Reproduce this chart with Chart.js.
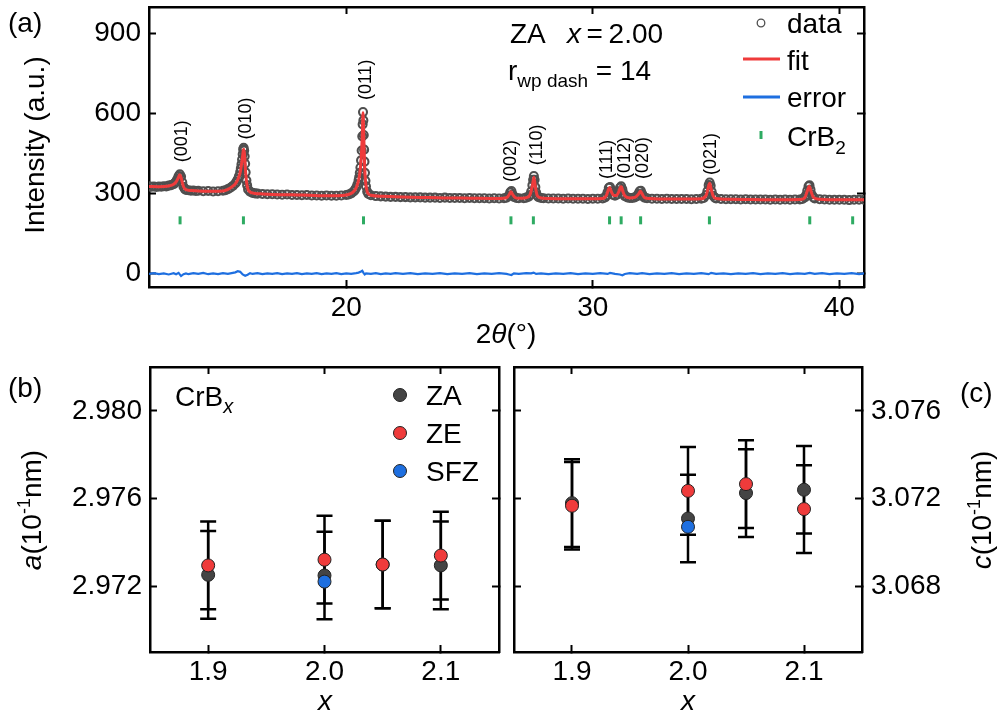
<!DOCTYPE html>
<html>
<head>
<meta charset="utf-8">
<script src="https://cdn.jsdelivr.net/npm/chart.js"></script>
<style>
  html, body { margin: 0; padding: 0; background: #fff; }
  #wrap { position: relative; width: 999px; height: 720px; }
  #wrap canvas { position: absolute; left: 0; top: 0; }
</style>
</head>
<body>
<div id="wrap">
  <canvas id="xrd" width="999" height="720"></canvas>
  <canvas id="latA" width="999" height="720"></canvas>
  <canvas id="latC" width="999" height="720"></canvas>
</div>
<script>
// ---- (a) powder pattern, 2theta (deg) vs counts ----
var obsPoints = [[12.0,328],[12.1,326],[12.2,327],[12.3,325],[12.4,327],[12.5,326],[12.6,328],[12.7,327],[12.8,330],[12.9,332],
  [13.0,336],[13.05,340],[13.1,346],[13.15,355],[13.2,366],[13.25,373],[13.3,364],[13.35,343],[13.4,326],[13.45,318],
  [13.5,314],[13.6,313],[13.7,311],[13.8,312],[13.9,310],[14.0,311],[14.2,309],[14.4,310],[14.6,308],[14.8,309],
  [15.0,311],[15.1,313],[15.2,317],[15.3,322],[15.4,329],[15.5,338],[15.55,345],[15.6,354],[15.65,366],[15.7,382],
  [15.725,395],[15.75,410],[15.775,428],[15.8,448],[15.82,466],[15.84,472],[15.86,462],[15.88,440],[15.9,412],[15.92,380],
  [15.95,350],[15.98,332],[16.02,316],[16.1,307],[16.2,303],[16.3,301],[16.4,300],[16.6,299],[16.8,298],[17.0,298],
  [17.2,297],[17.4,296],[17.6,297],[17.8,295],[18.0,295],[18.2,294],[18.4,295],[18.6,293],[18.8,293],[19.0,292],
  [19.2,293],[19.4,292],[19.6,292],[19.8,293],[20.0,295],[20.1,297],[20.2,301],[20.3,308],[20.35,314],[20.4,322],
  [20.45,334],[20.5,350],[20.525,362],[20.55,378],[20.575,398],[20.6,425],[20.625,462],[20.65,515],[20.665,560],[20.68,606],
  [20.695,575],[20.71,520],[20.725,465],[20.74,420],[20.76,378],[20.78,348],[20.8,328],[20.85,308],[20.9,299],[21.0,294],
  [21.2,291],[21.4,290],[21.6,289],[21.8,288],[22.0,288],[22.2,287],[22.4,287],[22.6,286],[22.8,286],[23.0,286],
  [23.2,285],[23.4,285],[23.6,285],[23.8,284],[24.0,285],[24.2,284],[24.4,284],[24.6,284],[24.8,283],[25.0,284],
  [25.2,283],[25.4,283],[25.6,283],[25.8,282],[26.0,283],[26.2,282],[26.4,283],[26.5,285],[26.6,293],[26.65,305],
  [26.7,310],[26.75,297],[26.8,288],[26.9,284],[27.0,283],[27.2,283],[27.3,285],[27.4,289],[27.45,295],[27.5,308],
  [27.55,332],[27.58,352],[27.61,366],[27.64,352],[27.67,325],[27.7,305],[27.75,292],[27.8,287],[27.9,284],[28.0,283],
  [28.2,282],[28.4,282],[28.6,282],[28.8,281],[29.0,282],[29.2,281],[29.4,281],[29.6,281],[29.8,280],[30.0,281],
  [30.2,281],[30.4,282],[30.5,286],[30.55,293],[30.6,306],[30.65,322],[30.7,325],[30.75,309],[30.8,296],[30.9,292],
  [31.0,297],[31.05,307],[31.1,322],[31.15,328],[31.2,316],[31.25,300],[31.3,291],[31.4,286],[31.5,284],[31.6,284],
  [31.7,286],[31.8,291],[31.85,299],[31.9,309],[31.95,311],[32.0,299],[32.05,290],[32.1,285],[32.2,283],[32.4,281],
  [32.6,281],[32.8,280],[33.0,281],[33.2,280],[33.4,280],[33.6,280],[33.8,280],[34.0,279],[34.2,280],[34.4,281],
  [34.5,284],[34.6,295],[34.65,310],[34.7,332],[34.74,342],[34.78,330],[34.82,308],[34.88,292],[34.95,285],[35.0,282],
  [35.2,280],[35.4,279],[35.6,279],[35.8,279],[36.0,278],[36.2,279],[36.4,278],[36.6,278],[36.8,278],[37.0,278],
  [37.2,277],[37.4,278],[37.6,277],[37.8,278],[38.0,277],[38.2,278],[38.4,278],[38.5,280],[38.6,286],[38.65,295],
  [38.7,312],[38.75,328],[38.79,331],[38.83,315],[38.88,297],[38.95,286],[39.0,282],[39.2,279],[39.4,278],[39.6,277],
  [39.8,277],[40.0,277],[40.2,277],[40.4,276],[40.6,277],[40.8,277],[41.0,277]];

var fitPoints = [[12.0,327],[12.4,326],[12.8,329],[13.0,335],[13.1,344],[13.2,362],[13.24,371],[13.3,361],[13.35,342],[13.4,326],
  [13.5,315],[13.7,312],[14.0,310],[14.5,309],[15.0,310],[15.2,316],[15.4,328],[15.5,337],[15.6,353],[15.7,380],
  [15.75,408],[15.8,444],[15.83,465],[15.85,467],[15.88,440],[15.92,380],[15.97,335],[16.05,310],[16.3,301],[16.6,299],
  [17.0,297],[17.5,296],[18.0,295],[18.5,294],[19.0,292],[19.5,292],[19.8,293],[20.0,295],[20.2,301],[20.3,308],
  [20.4,322],[20.5,350],[20.55,377],[20.6,424],[20.65,514],[20.68,603],[20.71,520],[20.74,420],[20.78,348],[20.85,308],
  [20.9,299],[21.0,294],[21.5,290],[22.0,288],[23.0,286],[24.0,284],[25.0,283],[26.0,282],[26.4,283],[26.55,288],
  [26.62,298],[26.68,307],[26.75,297],[26.85,286],[27.0,283],[27.3,285],[27.45,295],[27.55,330],[27.61,362],[27.67,326],
  [27.75,292],[27.9,284],[28.2,282],[29.0,281],[30.0,281],[30.4,282],[30.55,293],[30.62,312],[30.68,323],[30.75,308],
  [30.85,293],[30.95,293],[31.05,306],[31.12,324],[31.16,326],[31.22,308],[31.3,291],[31.5,284],[31.7,286],[31.85,298],
  [31.93,309],[32.0,299],[32.1,285],[32.3,282],[33.0,280],[34.0,280],[34.4,281],[34.6,294],[34.7,330],[34.74,339],
  [34.8,318],[34.88,292],[35.0,282],[35.5,279],[36.5,278],[37.5,277],[38.4,278],[38.6,285],[38.7,310],[38.78,328],
  [38.84,312],[38.95,286],[39.2,279],[40.0,277],[41.0,277]];

var errPoints = [[12.0,-1],[12.2,2],[12.4,-2],[12.6,1],[12.8,-3],[13.0,2],[13.1,-2],[13.2,3],[13.3,-9],[13.4,-2],
  [13.5,1],[13.6,-2],[13.8,2],[14.0,-1],[14.2,3],[14.4,-2],[14.6,1],[14.8,-2],[15.0,2],[15.2,-1],
  [15.4,3],[15.5,5],[15.6,9],[15.7,7],[15.8,-3],[15.9,-8],[16.0,-4],[16.1,2],[16.2,-1],[16.4,2],
  [16.6,-2],[16.8,1],[17.0,-1],[17.2,2],[17.4,-2],[17.6,1],[17.8,-1],[18.0,2],[18.2,-2],[18.4,1],
  [18.6,-1],[18.8,2],[19.0,-2],[19.2,1],[19.4,-1],[19.6,2],[19.8,-2],[20.0,1],[20.2,-1],[20.4,2],
  [20.5,4],[20.6,8],[20.65,11],[20.7,3],[20.75,-3],[20.8,1],[21.0,-1],[21.2,2],[21.4,-2],[21.6,1],
  [21.8,-1],[22.0,2],[22.3,-1],[22.6,2],[22.9,-2],[23.2,1],[23.5,-1],[23.8,2],[24.1,-2],[24.4,1],
  [24.7,-1],[25.0,2],[25.3,-2],[25.6,1],[25.9,-1],[26.2,2],[26.5,-1],[26.6,-3],[26.7,-5],[26.8,1],
  [27.0,-1],[27.3,2],[27.5,1],[27.6,4],[27.7,-1],[27.9,1],[28.2,-2],[28.5,1],[28.8,-1],[29.1,2],
  [29.4,-2],[29.7,1],[30.0,-1],[30.3,2],[30.6,-1],[30.7,3],[30.9,-1],[31.1,-3],[31.2,-6],[31.3,-1],
  [31.5,2],[31.8,-1],[32.0,2],[32.3,-2],[32.6,1],[32.9,-1],[33.2,2],[33.5,-2],[33.8,1],[34.1,-1],
  [34.4,2],[34.7,-2],[34.8,3],[35.0,-1],[35.3,1],[35.6,-2],[35.9,1],[36.2,-1],[36.5,2],[36.8,-2],
  [37.1,1],[37.4,-1],[37.7,2],[38.0,-2],[38.3,1],[38.6,-1],[38.8,3],[39.0,-1],[39.3,2],[39.6,-2],
  [39.9,1],[40.2,-1],[40.5,2],[40.8,-2],[41.0,1]];

// CrB2 reflection positions and the row they are marked on
var braggTheta = [13.26, 15.83, 20.70, 26.68, 27.59, 30.68, 31.15, 31.94, 34.73, 38.80, 40.54];
var braggLevel = 200;

var peakNames = ['(001)', '(010)', '(011)', '(002)', '(110)', '(111)', '(012)', '(020)', '(021)'];
var peakTheta = [13.35, 15.93, 20.81, 26.67, 27.72, 30.57, 31.31, 32.04, 34.80];

var xrdTicksX = [20, 30, 40];
var xrdTicksY = [0, 300, 600, 900];

// ---- (b), (c) lattice parameters vs boron content x ----
var xZA = [1.9, 2.0, 2.05, 2.1];
var xZE = [1.9, 2.0, 2.05, 2.1];
var xSFZ = [2.0];
var aZA = [2.97252, 2.97249, 2.97299, 2.97295];
var aZE = [2.97295, 2.97321, 2.97299, 2.97340];
var aSFZ = [2.97221];
var aErrZA = [0.002, 0.002, 0.002, 0.002];
var aErrZE = [0.002, 0.002, 0.002, 0.002];
var cZA = [3.07179, 3.07109, 3.07225, 3.07240];
var cZE = [3.07167, 3.07235, 3.07266, 3.07152];
var cSFZ = [3.07071];
var cErrZA = [0.002, 0.002, 0.002, 0.002];
var cErrZE = [0.002, 0.002, 0.002, 0.002];

var latTicksX = [1.9, 2.0, 2.1];
var aTicks = [2.972, 2.976, 2.980];
var cTicks = [3.068, 3.072, 3.076];

var FONT = "'Liberation Sans', Arial, sans-serif";
var GRAY = '#4f4f4f', RED = '#ef3b3b', BLUE = '#1e6fe0', GREEN = '#2eab62';

function pts(list) {
    return list.map(function(p) { return { x: p[0], y: p[1] }; });
}
function zipPts(xs, ys) {
    return xs.map(function(x, i) { return { x: x, y: ys[i] }; });
}

// fixed axis thickness so the plot areas land where the figure has them
function sized(px) {
    return function(scale) {
        if (scale.isHorizontal()) scale.height = px; else scale.width = px;
        scale.paddingLeft = scale.paddingRight = scale.paddingTop = scale.paddingBottom = 0;
    };
}

function axis(pos, min, max, values, labels, size, decimals, pad) {
    return {
        type: 'linear', position: pos, min: min, max: max,
        afterFit: sized(size),
        afterBuildTicks: function(scale) {
            scale.ticks = values.map(function(v) { return { value: v }; });
        },
        border: { display: true, color: '#000', width: 2.5 },
        grid: { drawOnChartArea: false, drawTicks: true, tickLength: -7, tickWidth: 2, tickColor: '#000' },
        ticks: {
            display: labels, padding: pad,
            color: '#000', font: { family: FONT, size: 28 }, maxRotation: 0, autoSkip: false,
            callback: function(v) { return Number(v).toFixed(decimals); }
        }
    };
}

// draw a run of text pieces: [text, size, italic, dy]
function runsWidth(ctx, runs) {
    var w = 0;
    runs.forEach(function(r) {
        ctx.font = (r[2] ? 'italic ' : '') + r[1] + 'px ' + FONT;
        w += ctx.measureText(r[0]).width;
    });
    return w;
}
function drawRuns(ctx, runs, x, y) {
    var cx = x;
    runs.forEach(function(r) {
        ctx.font = (r[2] ? 'italic ' : '') + r[1] + 'px ' + FONT;
        ctx.fillText(r[0], cx, y + (r[3] || 0));
        cx += ctx.measureText(r[0]).width;
    });
}
function drawRunsRotated(ctx, runs, cx, cy) {
    ctx.save();
    ctx.translate(cx, cy);
    ctx.rotate(-Math.PI / 2);
    drawRuns(ctx, runs, -runsWidth(ctx, runs) / 2, 0);
    ctx.restore();
}

var common = {
    responsive: false,
    animation: false,
    events: [],
    plugins: { legend: { display: false }, tooltip: { enabled: false } }
};

// ---------------- panel (a) ----------------
var labelBase = [418, 503, 651, 344, 407, 355, 355, 355, 370];

var xrdText = {
    id: 'xrdText',
    afterDraw: function(chart) {
        var ctx = chart.ctx, sx = chart.scales.x, sy = chart.scales.y;
        ctx.save();
        ctx.fillStyle = '#000';
        ctx.textBaseline = 'alphabetic';
        ctx.textAlign = 'left';

        // reflection indices, rotated
        ctx.font = '18px ' + FONT;
        peakNames.forEach(function(name, i) {
            ctx.save();
            ctx.translate(sx.getPixelForValue(peakTheta[i]), sy.getPixelForValue(labelBase[i]));
            ctx.rotate(-Math.PI / 2);
            ctx.textBaseline = 'middle';
            ctx.fillText(name, 0, 0);
            ctx.restore();
        });

        drawRuns(ctx, [['ZA', 28]], 510, 43);
        drawRuns(ctx, [['x', 28, true], ['\u2009=\u20092.00', 28]], 567, 43);
        drawRuns(ctx, [['r', 28], ['wp dash', 19, false, 7], [' = 14', 28]], 508, 80);

        // legend
        ctx.strokeStyle = GRAY; ctx.lineWidth = 1.3;
        ctx.beginPath(); ctx.arc(761, 23, 3.8, 0, Math.PI * 2); ctx.stroke();
        ctx.lineWidth = 3;
        ctx.strokeStyle = RED;
        ctx.beginPath(); ctx.moveTo(743, 59); ctx.lineTo(780, 59); ctx.stroke();
        ctx.strokeStyle = BLUE;
        ctx.beginPath(); ctx.moveTo(743, 97); ctx.lineTo(780, 97); ctx.stroke();
        ctx.strokeStyle = GREEN;
        ctx.beginPath(); ctx.moveTo(761, 131); ctx.lineTo(761, 139); ctx.stroke();
        drawRuns(ctx, [['data', 28]], 787, 33);
        drawRuns(ctx, [['fit', 28]], 787, 70);
        drawRuns(ctx, [['error', 28]], 787, 107);
        drawRuns(ctx, [['CrB', 28], ['2', 19, false, 8]], 787, 146);

        drawRuns(ctx, [['(a)', 28]], 8, 32);
        drawRunsRotated(ctx, [['Intensity (a.u.)', 28]], 44, 145);
        ctx.textAlign = 'left';
        var t = [['2', 28], ['\u03b8', 28, true], ['(\u00b0)', 28]];
        drawRuns(ctx, t, 506 - runsWidth(ctx, t) / 2, 343);
        ctx.restore();
    }
};

new Chart(document.getElementById('xrd'), {
    type: 'scatter',
    data: {
        datasets: [
            { label: 'fit', data: pts(fitPoints), showLine: true, borderColor: RED, borderWidth: 3,
              pointRadius: 0, cubicInterpolationMode: 'monotone', order: 0 },
            { label: 'error', data: pts(errPoints), showLine: true, borderColor: BLUE, borderWidth: 2.2,
              pointRadius: 0, order: 1 },
            { label: 'CrB2', data: braggTheta.map(function(t) { return { x: t, y: braggLevel }; }),
              pointStyle: 'line', rotation: 90, pointRadius: 4, borderColor: GREEN, borderWidth: 3, order: 1 },
            { label: 'data', data: pts(obsPoints), pointStyle: 'circle', pointRadius: 4,
              borderColor: GRAY, backgroundColor: 'rgba(0,0,0,0)', borderWidth: 2.1, order: 2 }
        ]
    },
    options: Object.assign({}, common, {
        layout: { padding: { left: 49, right: 125, top: 0, bottom: 383 } },
        scales: {
            x: axis('bottom', 12, 41, xrdTicksX, true, 50, 0, 11),
            x2: axis('top', 12, 41, xrdTicksX, false, 3, 0, 0),
            y: axis('left', -50, 1000, xrdTicksY, true, 100, 0, 15),
            y2: axis('right', -50, 1000, xrdTicksY, false, 10, 0, 0)
        }
    }),
    plugins: [xrdText]
});

// ---------------- panels (b) and (c) ----------------
var errorBars = {
    id: 'errorBars',
    beforeDatasetsDraw: function(chart) {
        var ctx = chart.ctx, sx = chart.scales.x, sy = chart.scales.y;
        ctx.save();
        ctx.strokeStyle = '#000';
        ctx.lineWidth = 2.5;
        chart.data.datasets.forEach(function(ds) {
            if (!ds.errors) return;
            ds.data.forEach(function(p, i) {
                var px = sx.getPixelForValue(p.x);
                var top = sy.getPixelForValue(p.y + ds.errors[i]);
                var bot = sy.getPixelForValue(p.y - ds.errors[i]);
                ctx.beginPath();
                ctx.moveTo(px, top); ctx.lineTo(px, bot);
                ctx.moveTo(px - 8, top); ctx.lineTo(px + 8, top);
                ctx.moveTo(px - 8, bot); ctx.lineTo(px + 8, bot);
                ctx.stroke();
            });
        });
        ctx.restore();
    }
};

function latticeSets(za, zaErr, ze, zeErr, sfz) {
    var base = { pointStyle: 'circle', pointRadius: 6.5, borderColor: '#222', borderWidth: 1 };
    return [
        Object.assign({ label: 'SFZ', data: zipPts(xSFZ, sfz), backgroundColor: BLUE, order: 0 }, base),
        Object.assign({ label: 'ZE', data: zipPts(xZE, ze), errors: zeErr, backgroundColor: RED, order: 1 }, base),
        Object.assign({ label: 'ZA', data: zipPts(xZA, za), errors: zaErr, backgroundColor: '#444', order: 2 }, base)
    ];
}

var latAText = {
    id: 'latAText',
    afterDraw: function(chart) {
        var ctx = chart.ctx;
        ctx.save();
        ctx.fillStyle = '#000';
        ctx.textAlign = 'left';
        ctx.textBaseline = 'alphabetic';
        drawRuns(ctx, [['(b)', 28]], 8, 397);
        drawRuns(ctx, [['CrB', 28], ['x', 20, true, 7]], 175, 406);
        var items = [['ZA', '#444', 395], ['ZE', RED, 433], ['SFZ', BLUE, 471]];
        items.forEach(function(it) {
            ctx.beginPath();
            ctx.arc(400, it[2], 6.5, 0, Math.PI * 2);
            ctx.fillStyle = it[1]; ctx.fill();
            ctx.strokeStyle = '#222'; ctx.lineWidth = 1; ctx.stroke();
            ctx.fillStyle = '#000';
            drawRuns(ctx, [[it[0], 28]], 426, it[2] + 10);
        });
        drawRunsRotated(ctx, [['a', 28, true], ['(10', 28], ['-1', 18, false, -11], ['nm)', 28]], 41, 510);
        var t = [['x', 28, true]];
        drawRuns(ctx, t, 325 - runsWidth(ctx, t) / 2, 710);
        ctx.restore();
    }
};

var latCText = {
    id: 'latCText',
    afterDraw: function(chart) {
        var ctx = chart.ctx;
        ctx.save();
        ctx.fillStyle = '#000';
        ctx.textAlign = 'left';
        ctx.textBaseline = 'alphabetic';
        drawRuns(ctx, [['(c)', 28]], 960, 402);
        drawRunsRotated(ctx, [['c', 28, true], ['(10', 28], ['-1', 18, false, -11], ['nm)', 28]], 991, 510);
        var t = [['x', 28, true]];
        drawRuns(ctx, t, 688 - runsWidth(ctx, t) / 2, 710);
        ctx.restore();
    }
};

new Chart(document.getElementById('latA'), {
    type: 'scatter',
    data: { datasets: latticeSets(aZA, aErrZA, aZE, aErrZE, aSFZ) },
    options: Object.assign({}, common, {
        layout: { padding: { left: 50, right: 490, top: 357, bottom: 18 } },
        scales: {
            x: axis('bottom', 1.85, 2.15, latTicksX, true, 50, 1, 10),
            x2: axis('top', 1.85, 2.15, latTicksX, false, 10, 1, 0),
            y: axis('left', 2.969, 2.982, aTicks, true, 100, 3, 15),
            y2: axis('right', 2.969, 2.982, aTicks, false, 10, 3, 0)
        }
    }),
    plugins: [errorBars, latAText]
});

new Chart(document.getElementById('latC'), {
    type: 'scatter',
    data: { datasets: latticeSets(cZA, cErrZA, cZE, cErrZE, cSFZ) },
    options: Object.assign({}, common, {
        layout: { padding: { left: 504, right: 37, top: 357, bottom: 18 } },
        scales: {
            x: axis('bottom', 1.85, 2.15, latTicksX, true, 50, 1, 10),
            x2: axis('top', 1.85, 2.15, latTicksX, false, 10, 1, 0),
            y2: axis('right', 3.065, 3.078, cTicks, true, 100, 3, 16),
            y: axis('left', 3.065, 3.078, cTicks, false, 10, 3, 0)
        }
    }),
    plugins: [errorBars, latCText]
});
</script>
</body>
</html>
